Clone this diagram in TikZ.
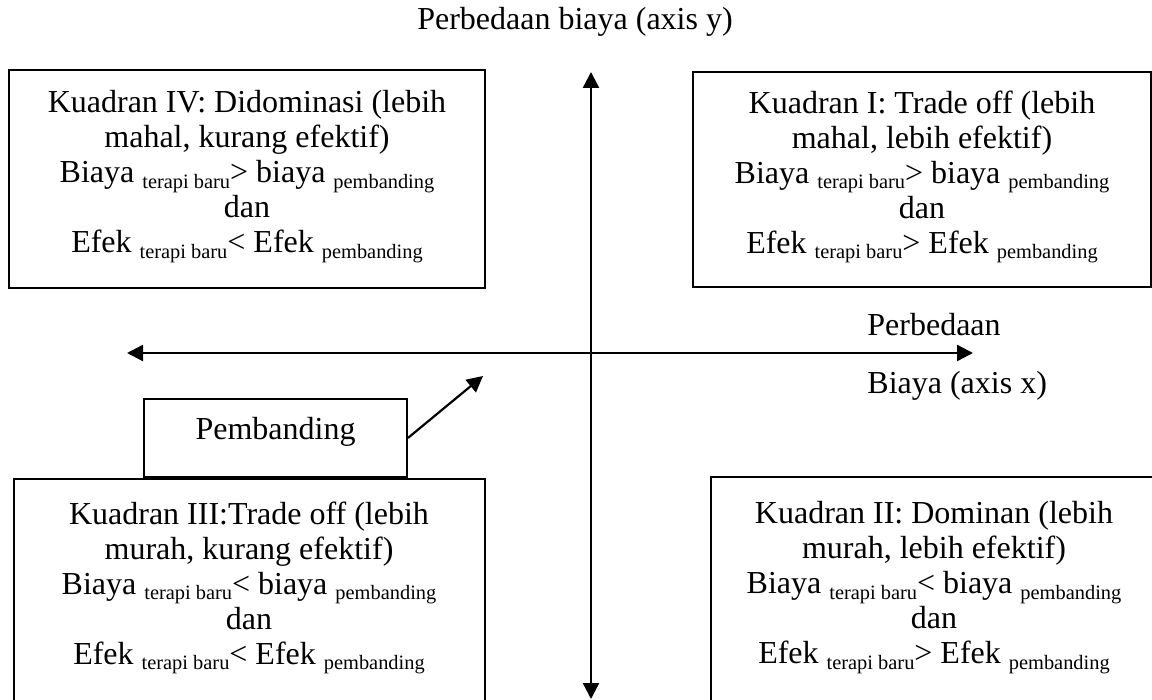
\documentclass[tikz,border=0pt]{standalone}
\usepackage{fontspec}
\setmainfont{Liberation Serif}
\usetikzlibrary{arrows.meta}
\newcommand{\sbs}[1]{\raisebox{-0.4ex}[0pt][0pt]{\fontsize{10.2}{11}\selectfont #1}}
\tikzset{
  main/.style={font=\fontsize{16}{17.5}\selectfont, align=center, inner sep=0pt},
  frame/.style={draw, line width=0.9pt, inner sep=0pt},
  ax/.style={line width=1.2pt, {Triangle[length=8pt,width=8pt]}-{Triangle[length=8pt,width=8pt]}},
  pointer/.style={line width=1.1pt, -{Triangle[length=8pt,width=8pt]}}
}
\begin{document}
\begin{tikzpicture}[x=0.5pt,y=-0.5pt]
\useasboundingbox (0,0) rectangle (1152,700);
\clip (0,0) rectangle (1152,700);
% axes
\coordinate (ytop) at (591,72);
\coordinate (ybot) at (591,699);
\coordinate (xleft) at (127,353);
\coordinate (xright) at (973,353);
\draw[ax] (ybot) -- (ytop);
\draw[ax] (xleft) -- (xright);
% axis labels
\node[main] (ylab) at (575,22) {Perbedaan biaya (axis y)};
\node[main, anchor=west] (xlab1) at (867,325) {Perbedaan};
\node[main, anchor=west] (xlab2) at (867,386) {Biaya (axis x)};
% quadrant frames
\node[frame, minimum width=238pt, minimum height=109pt] (b4) at (247,179) {};
\node[frame, minimum width=229pt, minimum height=107.5pt] (b1) at (922,179.5) {};
\node[frame, minimum width=235.5pt, minimum height=115pt] (b3) at (249.5,594) {};
\node[frame, minimum width=224.5pt, minimum height=116pt] (b2) at (935.5,593) {};
% quadrant texts
\node[main] (t4) at (247,172) {Kuadran IV: Didominasi (lebih\\ mahal, kurang efektif)\\ Biaya \sbs{terapi baru}> biaya \sbs{pembanding}\\ dan\\ Efek \sbs{terapi baru}< Efek \sbs{pembanding}};
\node[main] (t1) at (922,172) {Kuadran I: Trade off (lebih\\ mahal, lebih efektif)\\ Biaya \sbs{terapi baru}> biaya \sbs{pembanding}\\ dan\\ Efek \sbs{terapi baru}> Efek \sbs{pembanding}};
\node[main] (t3) at (249,583) {Kuadran III:Trade off (lebih\\ murah, kurang efektif)\\ Biaya \sbs{terapi baru}< biaya \sbs{pembanding}\\ dan\\ Efek \sbs{terapi baru}< Efek \sbs{pembanding}};
\node[main] (t2) at (934,583) {Kuadran II: Dominan (lebih\\ murah, lebih efektif)\\ Biaya \sbs{terapi baru}< biaya \sbs{pembanding}\\ dan\\ Efek \sbs{terapi baru}> Efek \sbs{pembanding}};
% pembanding
\node[frame, minimum width=131.5pt, minimum height=39pt] (pb) at (275.5,438) {};
\node[main] (pbt) at (275.5,432) {Pembanding};
\coordinate (pbtip) at (483,376);
\draw[pointer] (pb.east) -- (pbtip);
\end{tikzpicture}
\end{document}
